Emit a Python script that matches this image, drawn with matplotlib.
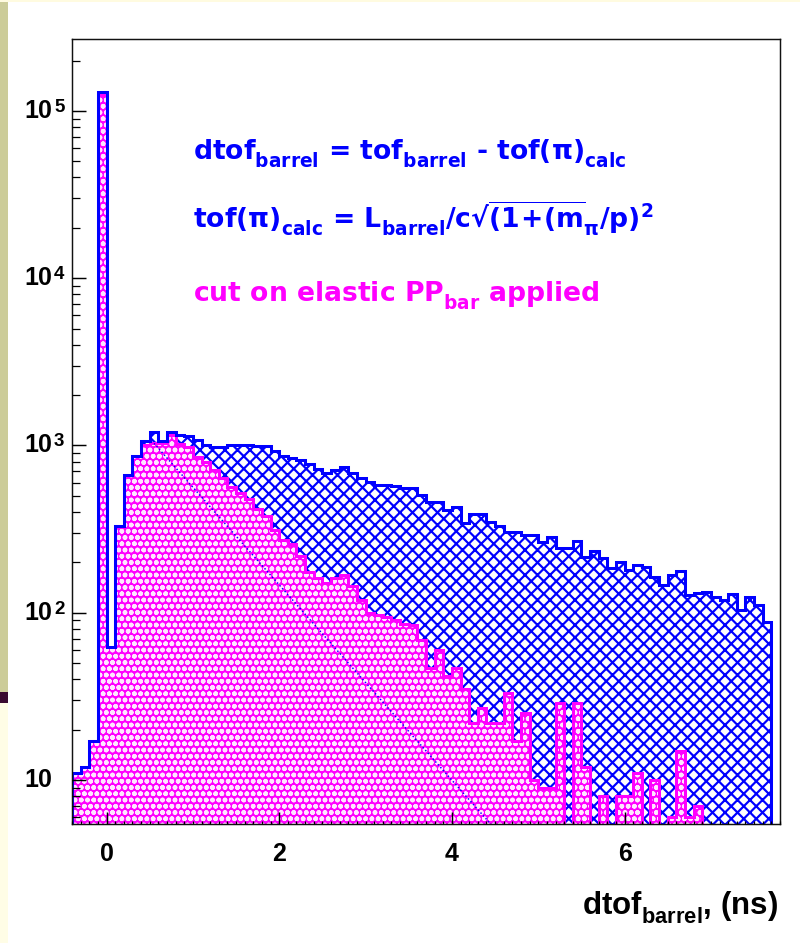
import numpy as np
import matplotlib
matplotlib.use('Agg')
import matplotlib.pyplot as plt
from matplotlib.patches import Rectangle
from matplotlib.ticker import FixedLocator, MultipleLocator, NullFormatter, LogLocator

plt.rcParams['font.family'] = ['Liberation Sans', 'DejaVu Sans']
plt.rcParams['font.weight'] = 'bold'
plt.rcParams['mathtext.fontset'] = 'custom'
plt.rcParams['mathtext.rm'] = 'Liberation Sans:bold'
plt.rcParams['mathtext.it'] = 'Liberation Sans:italic:bold'
plt.rcParams['mathtext.bf'] = 'Liberation Sans:bold'
plt.rcParams['mathtext.default'] = 'rm'
plt.rcParams['hatch.linewidth'] = 2.1

try:
    import matplotlib._mathtext as _mt
    _mt.FontConstantsBase.sub1 = 0.55
    _mt.FontConstantsBase.sub2 = 0.7
except Exception:
    pass

# ---------------- data ----------------
bin_low, bin_high, n_bins = -0.4, 7.7, 81          # dtof_barrel bins of 0.1 ns
counts_all = [11, 12, 17, 130000, 62, 330, 667, 865, 1065, 1205,
              1065, 1205, 1157, 1141, 1080, 1007, 979, 979, 1007, 1007,
              1007, 993, 993, 927, 865, 842, 819, 775, 723, 685,
              713, 743, 685, 640, 606, 581, 581, 573, 557, 557,
              506, 459, 459, 411, 429, 344, 389, 389, 349, 330,
              304, 304, 292, 292, 265, 284, 244, 244, 269, 215,
              234, 212, 185, 201, 180, 193, 188, 164, 147, 168,
              178, 128, 131, 133, 124, 119, 129, 104, 124, 111,
              88]
counts_elastic = [11, 12, 17, 125000, 62, 330, 667, 865, 1007, 1035,
                  1040, 1150, 1021, 979, 853, 796, 713, 640, 565, 520,
                  479, 417, 378, 312, 272, 258, 218, 175, 161, 151,
                  161, 168, 145, 119, 100, 97, 94, 91, 86, 85,
                  69, 47, 60, 42, 47, 35, 22, 27, 22, 22,
                  33, 17, 25, 10, 9, 9, 29, 0, 29, 12,
                  0, 8, 0, 8, 8, 11, 0, 10, 0, 6,
                  15, 6, 7, 0, 0, 0, 0, 0, 0, 0,
                  0]
fit_x = [0.55, 4.45]          # dotted exponential fit line
fit_y = [1030.0, 5.45]
x_tick_values = [0, 2, 4, 6]
x_tick_labels = ['0', '2', '4', '6']
y_decades = [1e1, 1e2, 1e3, 1e4, 1e5]
y_exponents = ['', '2', '3', '4', '5']
x_limits = (-0.4, 7.8)
y_limits = (5.46, 2.69e5)

BLUE = '#0000ff'
MAGENTA = '#ff00ff'

DPI = 75
W, H = 800, 943
fig = plt.figure(figsize=(W / DPI, H / DPI), dpi=DPI, facecolor='white')

def slide_rect(x0, y0, w, h, c):
    fig.patches.append(Rectangle((x0 / W, 1 - (y0 + h) / H), w / W, h / H,
                                 transform=fig.transFigure, facecolor=c,
                                 edgecolor='none', zorder=0))

slide_rect(0, 0, 8, 692, '#cccc99')
slide_rect(0, 692, 8, 11, '#3a0a30')
slide_rect(0, 703, 8, 240, '#fffde6')
slide_rect(0, 0, W, 2, '#fffbe0')

ax = fig.add_axes([72 / W, 1 - 824 / H, 708 / W, 785 / H])
ax.set_facecolor('white')

edges = np.linspace(bin_low, bin_high, n_bins + 1)
base = 1.0
va = np.clip(np.asarray(counts_all, float), base, None)
ve = np.clip(np.asarray(counts_elastic, float), base, None)

# blue cross-hatched histogram (all events)
ax.stairs(va, edges, baseline=base, fill=True, facecolor='none',
          edgecolor=BLUE, hatch='xx', linewidth=0, zorder=1.1)
# magenta histogram (elastic cut) with white dotted pattern
ax.stairs(ve, edges, baseline=base, fill=True, facecolor=MAGENTA,
          edgecolor='none', linewidth=0, zorder=1.2)
ax.stairs(ve, edges, baseline=base, fill=True, facecolor='none',
          edgecolor=(1, 1, 1, 0.9), hatch='oo', linewidth=0, zorder=1.3)
ax.stairs(ve, edges, baseline=base, fill=False, edgecolor=MAGENTA,
          linewidth=2.9, zorder=1.4)
ax.plot(fit_x, fit_y, color=BLUE, linewidth=1.4, linestyle=(0, (1, 1.6)), zorder=1.5)
ax.stairs(va, edges, baseline=base, fill=False, edgecolor=BLUE,
          linewidth=2.9, zorder=1.6)

ax.set_yscale('log')
ax.set_xlim(*x_limits)
ax.set_ylim(*y_limits)

for s in ax.spines.values():
    s.set_linewidth(1.4)
    s.set_color('#111111')
    s.set_zorder(3)
ax.xaxis.set_zorder(3)
ax.yaxis.set_zorder(3)

ax.xaxis.set_major_locator(FixedLocator(x_tick_values))
ax.set_xticklabels(x_tick_labels)
ax.xaxis.set_minor_locator(MultipleLocator(0.1))
ax.tick_params(axis='x', which='major', direction='in', length=12, width=1.4,
               labelsize=24, pad=17, top=False)
ax.tick_params(axis='x', which='minor', direction='in', length=3, width=1.2, top=False)

ax.yaxis.set_major_locator(FixedLocator(y_decades))
ax.yaxis.set_minor_locator(LogLocator(base=10, subs=np.arange(2, 10)))
ax.yaxis.set_major_formatter(NullFormatter())
ax.yaxis.set_minor_formatter(NullFormatter())
ax.tick_params(axis='y', which='major', direction='in', length=13, width=1.4, right=False)
ax.tick_params(axis='y', which='minor', direction='in', length=7.5, width=1.2, right=False)

for d, e in zip(y_decades, y_exponents):
    ax.annotate('10', xy=(0, d), xycoords=('axes fraction', 'data'),
                xytext=(-20, 0), textcoords='offset pixels',
                ha='right', va='center', fontsize=24, fontweight='bold')
    if e:
        ax.annotate(e, xy=(0, d), xycoords=('axes fraction', 'data'),
                    xytext=(-18, -1), textcoords='offset pixels',
                    ha='left', va='baseline', fontsize=18, fontweight='bold')

# annotations (wide bold sans like the original)
ann = dict(family='DejaVu Sans', fontweight='bold', fontsize=25.5,
           math_fontfamily='dejavusans', ha='left', va='baseline')
fig.text(193 / W, 1 - 160 / H,
         r'dtof$_{\mathbf{barrel}}$ = tof$_{\mathbf{barrel}}$ - tof(π)$_{\mathbf{calc}}$',
         color=BLUE, **ann)
fig.text(193 / W, 1 - 228 / H,
         r'tof(π)$_{\mathbf{calc}}$ = L$_{\mathbf{barrel}}$/c√$\overline{\mathbf{(1\!+\!(m}}_{\pi}$/p)$^{\mathbf{2}}$',
         color=BLUE, **ann)
fig.text(193 / W, 1 - 302 / H,
         r'cut on elastic PP$_{\mathbf{bar}}$ applied',
         color=MAGENTA, **ann)
fig.text(778 / W, 1 - 915 / H, r'dtof$_{barrel}$, (ns)',
         color='black', fontsize=30, ha='right', va='baseline')

fig.savefig('out.png', dpi=DPI, facecolor=fig.get_facecolor())
